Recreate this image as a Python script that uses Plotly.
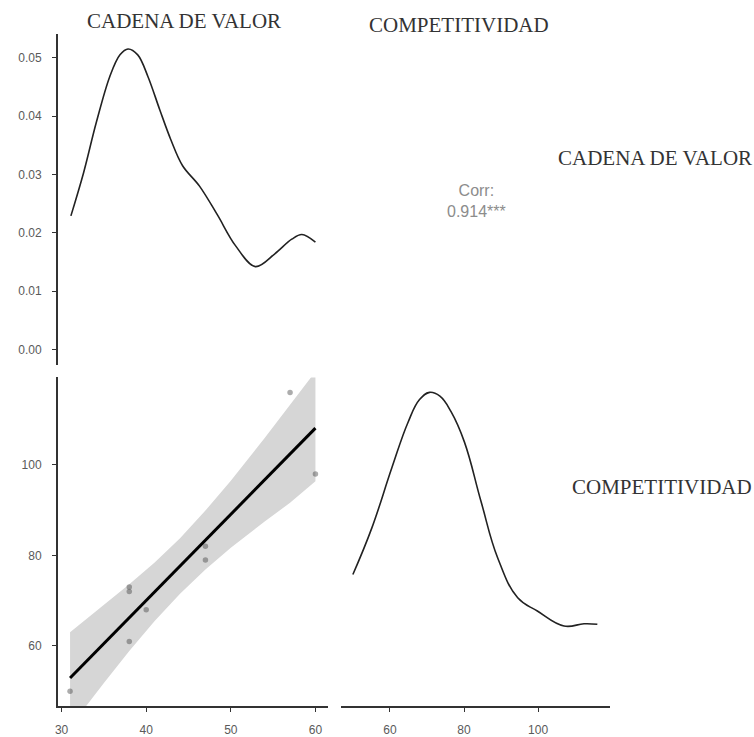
import plotly.graph_objects as go

W, H = 754, 737

# ---------------- data ----------------
var_names = ["CADENA DE VALOR", "COMPETITIVIDAD"]

cadena = [31, 38, 38, 38, 40, 47, 47, 57, 60]
competitividad = [50, 73, 72, 61, 68, 82, 79, 116, 98]

corr_label = "Corr:<br>0.914***"

# density of CADENA DE VALOR
dens1_x = [31.1, 32.6, 34.1, 35.7, 36.9, 37.85, 39.0, 40.2, 41.6, 42.9, 44.3, 46.3, 48.4, 50.55, 52.9, 55.2, 57.2, 58.4, 60]
dens1_y = [0.0229, 0.0303, 0.0389, 0.0468, 0.0505, 0.0515, 0.0505, 0.0468, 0.0411, 0.0360, 0.0315, 0.0280, 0.0231,
           0.0178, 0.0142, 0.0164, 0.0189, 0.0197, 0.0184]

# density of COMPETITIVIDAD
dens2_x = [50, 55.1, 60.5, 64.9, 68.0, 70.7, 73.5, 76.5, 80.1, 84.6, 89.1, 94.5, 99.8, 107, 112.4, 116]
dens2_y = [0.01056, 0.01476, 0.0202, 0.02435, 0.0264, 0.02705, 0.0267, 0.0253, 0.02257, 0.01717, 0.01206,
           0.00846, 0.00726, 0.0059, 0.0061, 0.00606]

# linear fit and 95% band
fit_x = [31, 60]
fit_y = [52.9, 108.1]
band_x = [31, 35, 38, 41, 44, 47, 50, 54, 57, 60]
band_upper = [63.0, 69.0, 73.6, 78.4, 83.8, 89.9, 96.5, 105.9, 113.2, 120.6]
band_lower = [42.1, 51.8, 58.9, 65.5, 71.5, 76.9, 81.7, 87.5, 91.6, 96.4]

x1_ticks = [30, 40, 50, 60]
y1_ticks = [0.00, 0.01, 0.02, 0.03, 0.04, 0.05]
y2_ticks = [60, 80, 100]
x3_ticks = [60, 80, 100]

# ---------------- layout helpers ----------------
def px_x(a, b):
    return [a / W, b / W]

def px_y(top, bottom):
    return [1 - bottom / H, 1 - top / H]

col1 = px_x(55, 326)
col2 = px_x(339, 609)
row1 = px_y(34, 366)
row2 = px_y(379, 709)

AX = "#333333"
TICKFONT = dict(family="Liberation Sans, Arial, sans-serif", size=12, color="#5a5a5a")

def axis(domain, rng, show, anchor, tickvals=None, ticktext=None):
    d = dict(domain=domain, range=rng, anchor=anchor, showgrid=False, zeroline=False,
             fixedrange=True)
    if show:
        d.update(showline=True, linecolor=AX, linewidth=1.5, ticks="outside", ticklen=4,
                 tickwidth=1.2, tickcolor=AX, tickvals=tickvals, ticktext=ticktext,
                 tickfont=TICKFONT, showticklabels=True, ticklabelstandoff=8)
    else:
        d.update(showline=False, showticklabels=False, ticks="", visible=False)
    return d

fig = go.Figure()

LINE = "#222222"

# top-left density
fig.add_trace(go.Scatter(x=dens1_x, y=dens1_y, mode="lines",
                         line=dict(color=LINE, width=1.6, shape="spline", smoothing=1.0),
                         xaxis="x", yaxis="y", showlegend=False, hoverinfo="skip"))

# lower-left band
fig.add_trace(go.Scatter(x=band_x + band_x[::-1], y=band_upper + band_lower[::-1], mode="lines",
                         fill="toself", fillcolor="#d6d6d6", line=dict(width=0, color="#d6d6d6"),
                         xaxis="x2", yaxis="y2", showlegend=False, hoverinfo="skip"))
# points
fig.add_trace(go.Scatter(x=cadena, y=competitividad, mode="markers",
                         marker=dict(color="rgba(70,70,70,0.45)", size=5.5, line=dict(width=0)),
                         xaxis="x2", yaxis="y2", showlegend=False))
# fit line
fig.add_trace(go.Scatter(x=fit_x, y=fit_y, mode="lines", line=dict(color="black", width=3),
                         xaxis="x2", yaxis="y2", showlegend=False, hoverinfo="skip"))

# lower-right density
fig.add_trace(go.Scatter(x=dens2_x, y=dens2_y, mode="lines",
                         line=dict(color=LINE, width=1.6, shape="spline", smoothing=1.2),
                         xaxis="x3", yaxis="y3", showlegend=False, hoverinfo="skip"))

x_rng1 = [29.55, 61.45]
y_rng2 = [46.7, 119.3]
x_rng3 = [46.7, 119.3]

fig.update_layout(
    width=W, height=H, margin=dict(l=0, r=0, t=0, b=0),
    paper_bgcolor="white", plot_bgcolor="white",
    xaxis=axis(col1, x_rng1, False, "y"),
    yaxis=axis(row1, [-0.00258, 0.0541], True, "x", y1_ticks, [f"{v:.2f}" for v in y1_ticks]),
    xaxis2=axis(col1, x_rng1, True, "y2", x1_ticks, [str(v) for v in x1_ticks]),
    yaxis2=axis(row2, y_rng2, True, "x2", y2_ticks, [str(v) for v in y2_ticks]),
    xaxis3=axis(col2, x_rng3, True, "y3", x3_ticks, [str(v) for v in x3_ticks]),
    yaxis3=axis(row2, [-0.00135, 0.0284], False, "x3"),
)

STRIP = dict(family="Liberation Serif, Times New Roman, serif", size=21, color="#333333")
ann = [
    dict(text=var_names[0], x=181.5 / W, y=1 - 21.5 / H),
    dict(text=var_names[1], x=458 / W, y=1 - 25.5 / H),
    dict(text=var_names[0], x=655 / W, y=1 - 159 / H),
    dict(text=var_names[1], x=661.7 / W, y=1 - 489 / H),
]
for a in ann:
    fig.add_annotation(xref="paper", yref="paper", showarrow=False, xanchor="center", yanchor="middle",
                       font=STRIP, **a)

fig.add_annotation(xref="paper", yref="paper", x=475 / W, y=1 - 202 / H, text=corr_label, showarrow=False,
                   xanchor="center", yanchor="middle", align="center",
                   font=dict(family="Liberation Sans, Arial, sans-serif", size=16, color="#8c8c8c"))

fig.write_html("out.html")
